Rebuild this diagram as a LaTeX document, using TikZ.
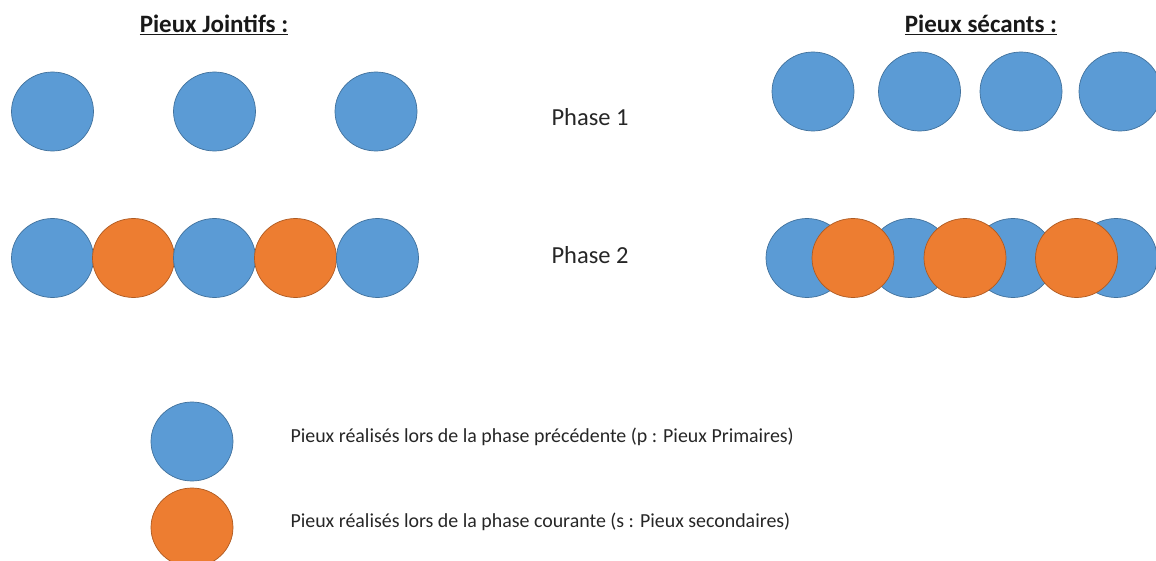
\documentclass[tikz,border=0pt]{standalone}
\usepackage{fontspec}
\setmainfont{Carlito}
\usetikzlibrary{shapes.geometric}
\definecolor{pblue}{HTML}{5B9BD5}
\definecolor{pblueb}{HTML}{41719C}
\definecolor{porange}{HTML}{ED7D31}
\definecolor{porangeb}{HTML}{AE5A21}
\tikzset{
  pile/.style={ellipse, minimum width=82pt, minimum height=79pt, inner sep=0pt, line width=0.7pt},
  prim/.style={pile, fill=pblue, draw=pblueb},
  seco/.style={pile, fill=porange, draw=porangeb},
  title/.style={font=\fontsize{25}{30}\selectfont\bfseries, text=black!90},
  phase/.style={font=\fontsize{24.5}{29}\selectfont, text=black!85},
  legend/.style={font=\fontsize{19.9}{24}\selectfont, text=black!85, anchor=west}
}
\begin{document}
\begin{tikzpicture}[x=1pt,y=-1pt]
\useasboundingbox (0,0) rectangle (1156,561);
% titles
\node[title] (t1) at (214,25) {\underline{Pieux Jointifs :}};
\node[title] (t2) at (981,25) {\underline{Pieux sécants :}};
% phase labels
\node[phase] (ph1) at (590,117) {Phase 1};
\node[phase] (ph2) at (590,255) {Phase 2};
% jointifs phase 1
\node[prim] (j11) at (52.5,111.5) {};
\node[prim] (j12) at (214.5,111.5) {};
\node[prim] (j13) at (376,111.5) {};
% jointifs phase 2
\node[prim] (j21) at (52.5,258) {};
\node[seco] (j22) at (133.5,258) {};
\node[prim] (j23) at (214.5,258) {};
\node[seco] (j24) at (295.5,258) {};
\node[prim] (j25) at (377.5,258) {};
% secants phase 1
\node[prim] (s11) at (813,91.5) {};
\node[prim] (s12) at (919.5,91.5) {};
\node[prim] (s13) at (1021,91.5) {};
\node[prim] (s14) at (1120,91.5) {};
% secants phase 2
\node[prim] (s21) at (807,258) {};
\node[prim] (s23) at (910,258) {};
\node[prim] (s25) at (1013,258) {};
\node[prim] (s27) at (1116,258) {};
\node[seco] (s22) at (853,258) {};
\node[seco] (s24) at (965,258) {};
\node[seco] (s26) at (1076.5,258) {};
% legend
\node[prim] (lp) at (192,441.5) {};
\node[seco] (ls) at (192,527.5) {};
\node[legend] (lpt) at (287,437) {Pieux réalisés lors de la phase précédente (p : Pieux Primaires)};
\node[legend] (lst) at (287,522) {Pieux réalisés lors de la phase courante (s : Pieux secondaires)};
\end{tikzpicture}
\end{document}
